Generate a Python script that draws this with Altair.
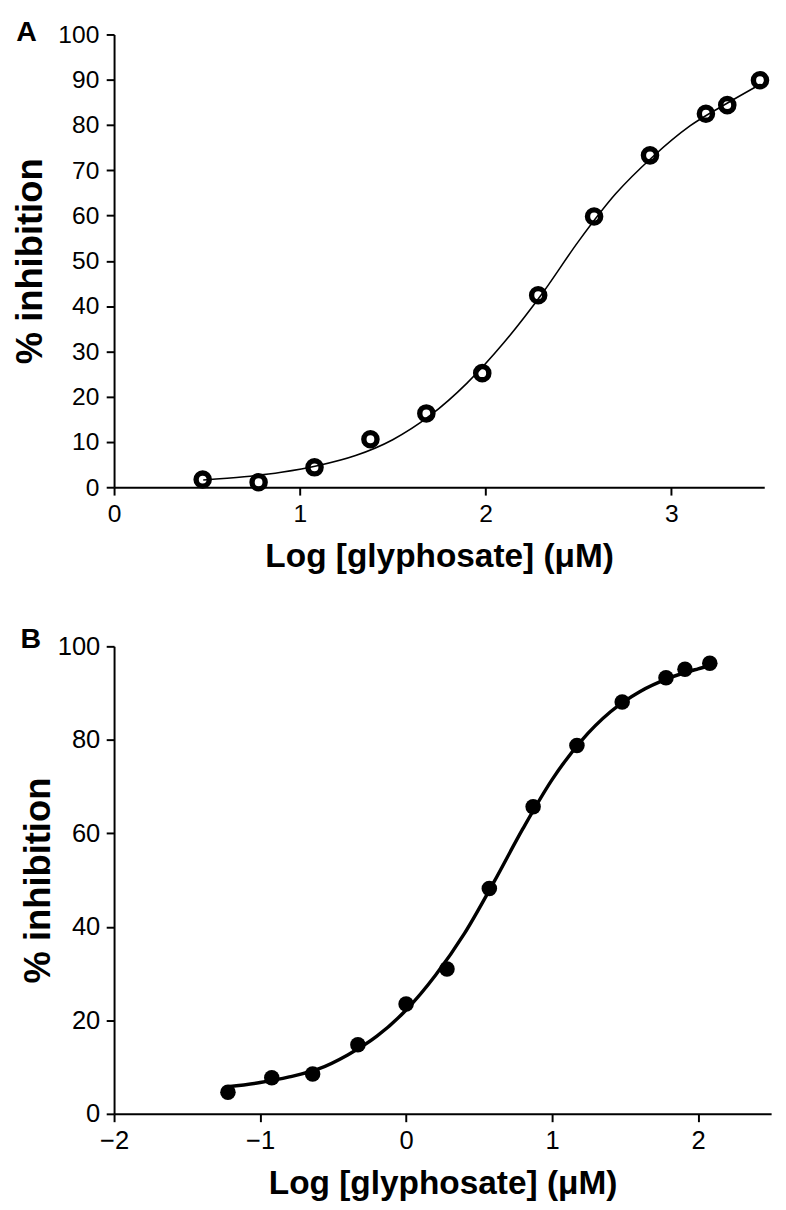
import altair as alt
import pandas as pd

FONT = "Liberation Sans"

# ---------------- Panel A (open circles) ----------------
a_x = [0.477, 0.778, 1.079, 1.380, 1.681, 1.982, 2.283, 2.584, 2.885, 3.186, 3.301, 3.477]
a_y = [1.7, 1.1, 4.4, 10.6, 16.3, 25.2, 42.4, 59.8, 73.3, 82.5, 84.4, 89.9]
a_fit_x = [0.48, 0.7, 0.9, 1.1, 1.3, 1.5, 1.7, 1.9, 2.1, 2.3, 2.5, 2.7, 2.9, 3.1, 3.3, 3.48]
a_fit_y = [1.6, 2.3, 3.3, 4.8, 7.0, 10.5, 15.8, 23.0, 32.0, 42.5, 54.3, 64.8, 73.0, 79.8, 84.8, 89.0]
a_xticks = [0, 1, 2, 3]
a_yticks = [0, 10, 20, 30, 40, 50, 60, 70, 80, 90, 100]

# ---------------- Panel B (filled circles) ----------------
b_x = [-1.22, -0.92, -0.64, -0.33, 0.0, 0.28, 0.57, 0.87, 1.17, 1.48, 1.78, 1.91, 2.08]
b_y = [4.6, 7.7, 8.5, 14.8, 23.5, 31.0, 48.2, 65.7, 78.8, 88.1, 93.3, 95.1, 96.4]
b_fit_x = [-1.22, -1.0, -0.8, -0.6, -0.4, -0.2, 0.0, 0.2, 0.4, 0.6, 0.8, 1.0, 1.2, 1.4, 1.6, 1.8, 2.0, 2.08]
b_fit_y = [5.8, 6.7, 7.9, 9.6, 12.6, 16.6, 22.2, 29.6, 38.6, 49.5, 61.0, 71.5, 79.8, 86.0, 90.3, 93.2, 95.2, 95.9]
b_xticks = [-2, -1, 0, 1, 2]
b_yticks = [0, 20, 40, 60, 80, 100]

x_title = "Log [glyphosate] (μM)"
y_title = "% inhibition"


def make_axis(values, title, label_fs, label_pad, title_fs, title_pad):
    return alt.Axis(
        values=values, title=title, grid=False,
        domainColor="black", domainWidth=2,
        tickColor="black", tickWidth=2, tickSize=8,
        labelFont=FONT, labelFontSize=label_fs, labelColor="black",
        labelPadding=label_pad, labelFlush=False,
        titleFont=FONT, titleFontSize=title_fs, titleFontWeight="bold",
        titleColor="black", titlePadding=title_pad,
    )


# ----- Panel A chart -----
dfA = pd.DataFrame({"x": a_x, "y": a_y})
fitA = pd.DataFrame({"x": a_fit_x, "y": a_fit_y})
XA = alt.X("x:Q", scale=alt.Scale(domain=[0, 3.5], nice=False, zero=False),
           axis=make_axis(a_xticks, x_title, 25, 7, 34, 14))
YA = alt.Y("y:Q", scale=alt.Scale(domain=[0, 100], nice=False),
           axis=make_axis(a_yticks, y_title, 25, 7.5, 37, 8.4))

lineA = alt.Chart(fitA).mark_line(color="black", strokeWidth=1.6, interpolate="monotone").encode(x=XA, y=YA)
ptsA = alt.Chart(dfA).mark_point(shape="circle", filled=False, color="black",
                                 strokeWidth=5.5, size=180, opacity=1).encode(x=XA, y=YA)
labA = pd.DataFrame({"t": ["A"]})
letterA = alt.Chart(labA).mark_text(font=FONT, fontWeight="bold", fontSize=29, align="left",
                                    baseline="alphabetic", color="black").encode(
    x=alt.value(-99.5), y=alt.value(7), text="t:N")
ghostA = alt.Chart(labA).mark_text(font=FONT, fontSize=10, align="left", baseline="middle",
                                   opacity=0).encode(
    x=alt.value(-107.5), y=alt.value(200), text="t:N")

panelA = alt.layer(lineA, ptsA, letterA, ghostA).properties(width=662, height=461)

# ----- Panel B chart -----
dfB = pd.DataFrame({"x": b_x, "y": b_y})
fitB = pd.DataFrame({"x": b_fit_x, "y": b_fit_y})
XB = alt.X("x:Q", scale=alt.Scale(domain=[-2, 2.5], nice=False, zero=False),
           axis=make_axis(b_xticks, x_title, 26, 5.8, 34, 14.3))
YB = alt.Y("y:Q", scale=alt.Scale(domain=[0, 100], nice=False),
           axis=make_axis(b_yticks, y_title, 26, 6.5, 37, 0))

lineB = alt.Chart(fitB).mark_line(color="black", strokeWidth=3.5, interpolate="monotone").encode(x=XB, y=YB)
ptsB = alt.Chart(dfB).mark_point(shape="circle", filled=True, color="black",
                                 size=250, opacity=1).encode(x=XB, y=YB)
labB = pd.DataFrame({"t": ["B"]})
letterB = alt.Chart(labB).mark_text(font=FONT, fontWeight="bold", fontSize=29, align="left",
                                    baseline="alphabetic", color="black").encode(
    x=alt.value(-95.3), y=alt.value(1.7), text="t:N")

panelB = alt.layer(lineB, ptsB, letterB).properties(width=669, height=476)

chart = (
    alt.vconcat(panelA, panelB, spacing=52)
    .properties(padding=0, background="white")
    .configure_view(stroke=None)
)

chart.save("out.html", embed_options={"renderer": "svg", "actions": False})
